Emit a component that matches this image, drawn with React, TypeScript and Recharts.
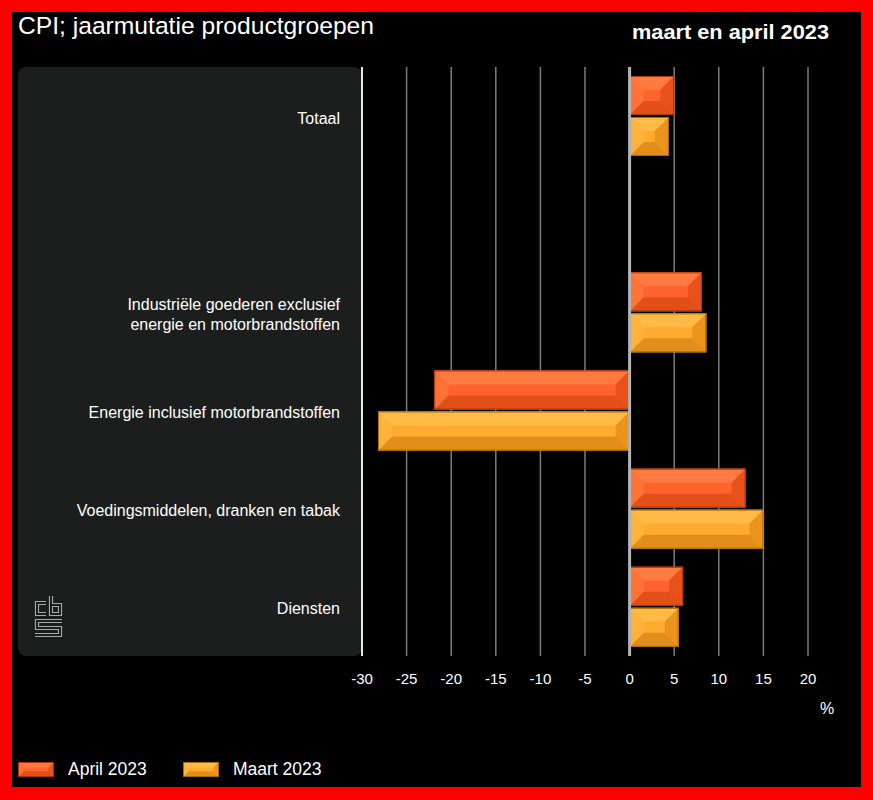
import React from 'react';
import { BarChart, Bar, XAxis, YAxis, CartesianGrid, ReferenceLine, Legend } from 'recharts';

const categories = [
  'Totaal',
  '',
  'Industriële goederen exclusief\nenergie en motorbrandstoffen',
  'Energie inclusief motorbrandstoffen',
  'Voedingsmiddelen, dranken en tabak',
  'Diensten',
];
const april2023 = [5.0, null, 8.1, -21.9, 13.0, 6.0];
const maart2023 = [4.4, null, 8.6, -28.2, 15.0, 5.5];
const xTicks = [-30, -25, -20, -15, -10, -5, 0, 5, 10, 15, 20];

const data = categories.map((c, i) => ({ name: c, april: april2023[i], maart: maart2023[i] }));

const FONT = '"Liberation Sans", Arial, sans-serif';

type Pal = { face: string; top: string; left: string; right: string; bottom: string; line: string };
const APRIL: Pal = { face: '#ff632c', top: '#ff7a40', left: '#ff7236', right: '#e8521a', bottom: '#e24f18', line: '#a83608' };
const MAART: Pal = { face: '#ffab30', top: '#ffbb46', left: '#ffb33c', right: '#ea941e', bottom: '#e28e1a', line: '#a86a08' };

function bevel(x: number, y: number, w: number, h: number, p: Pal, maxB = 14) {
  const b = Math.max(0, Math.min(maxB, h * 0.38, w / 2));
  return (
    <g>
      <rect x={x} y={y} width={w} height={h} fill={p.face} />
      <polygon points={`${x},${y} ${x + w},${y} ${x + w - b},${y + b} ${x + b},${y + b}`} fill={p.top} />
      <polygon points={`${x},${y + h} ${x + w},${y + h} ${x + w - b},${y + h - b} ${x + b},${y + h - b}`} fill={p.bottom} />
      <polygon points={`${x},${y} ${x + b},${y + b} ${x + b},${y + h - b} ${x},${y + h}`} fill={p.left} />
      <polygon points={`${x + w},${y} ${x + w - b},${y + b} ${x + w - b},${y + h - b} ${x + w},${y + h}`} fill={p.right} />
      <rect x={x + 0.5} y={y + 0.5} width={Math.max(0, w - 1)} height={Math.max(0, h - 1)} fill="none" stroke={p.line} strokeWidth={1} />
    </g>
  );
}

const makeShape = (p: Pal) => (props: any) => {
  let { x, y, width, height } = props;
  if (x == null || y == null || !width || !height) return <g />;
  if (width < 0) { x += width; width = -width; }
  if (height < 0) { y += height; height = -height; }
  return bevel(x, y, width, height, p);
};

const CatTick = (props: any) => {
  const { x, y, payload } = props;
  const lines = String(payload.value).split('\n');
  const lh = 20;
  const y0 = y - ((lines.length - 1) * lh) / 2 + 1.5;
  return (
    <text textAnchor="end" fill="#ffffff" fontSize={16} fontFamily={FONT} dominantBaseline="central">
      {lines.map((l, i) => (
        <tspan key={i} x={x} y={y0 + i * lh}>{l}</tspan>
      ))}
    </text>
  );
};

const renderLegend = (props: any) => {
  const { payload } = props;
  const pals = [APRIL, MAART];
  return (
    <div style={{ display: 'flex', fontFamily: FONT, fontSize: 17.5, color: '#fff' }}>
      {(payload || []).map((e: any, i: number) => (
        <div key={i} style={{ display: 'flex', alignItems: 'center', width: 165 }}>
          <svg width={36} height={15} style={{ display: 'block' }}>
            {bevel(0, 0, 36, 15, pals[i] || APRIL, 6)}
          </svg>
          <span style={{ marginLeft: 14, lineHeight: '20px' }}>{e.value}</span>
        </div>
      ))}
    </div>
  );
};

export default function App() {
  return (
    <div style={{ position: 'absolute', left: 0, top: 0, width: 873, height: 800, background: '#ff0000', overflow: 'hidden' }}>
      <div style={{ position: 'absolute', left: 12, top: 12, width: 849, height: 775, background: '#000' }} />
      <div style={{ position: 'absolute', left: 18, top: 67, width: 344, height: 589, background: '#1c1e1e', borderRadius: 8 }} />
      <svg width={873} height={800} style={{ position: 'absolute', left: 0, top: 0 }}>
        <text x={18} y={33.5} fill="#fff" fontSize={24.5} fontFamily={FONT} textLength={356} lengthAdjust="spacingAndGlyphs">CPI; jaarmutatie productgroepen</text>
        <text x={632} y={38.5} fill="#fff" fontSize={20.5} fontWeight="bold" fontFamily={FONT} textLength={197} lengthAdjust="spacingAndGlyphs">maart en april 2023</text>
        <text x={827} y={714} fill="#fff" fontSize={16} fontFamily={FONT} textAnchor="middle">%</text>
        <g transform="translate(35,596)" fill="none" strokeLinejoin="miter" strokeLinecap="butt">
          <g stroke="#a8a8a8" strokeWidth={4.2}>
            <path d="M11 7 H2 V18 H11" />
            <path d="M16 0 V18 H25 V9 H16" />
            <path d="M27 25 H2 V32 H25 V39 H0" />
          </g>
          <g stroke="#1c1e1e" strokeWidth={2}>
            <path d="M11.5 7 H2 V18 H11.5" />
            <path d="M16 -0.5 V18 H25 V9 H16" />
            <path d="M27.5 25 H2 V32 H25 V39 H-0.5" />
          </g>
        </g>
      </svg>
      <div style={{ position: 'absolute', left: 0, top: 0 }}>
        <BarChart
          width={873}
          height={800}
          data={data}
          layout="vertical"
          margin={{ top: 67, right: 65, bottom: 114, left: 0 }}
          barGap={2}
          barCategoryGap={9}
        >
          <CartesianGrid horizontal={false} vertical={true} stroke="#7c7c7c" strokeWidth={1.5} />
          <XAxis
            type="number"
            domain={[-30, 20]}
            ticks={xTicks}
            axisLine={false}
            tickLine={false}
            tickSize={0}
            tickMargin={17}
            interval={0}
            height={30}
            tick={{ fill: '#ffffff', fontSize: 15, fontFamily: FONT }}
          />
          <YAxis
            type="category"
            dataKey="name"
            width={362}
            axisLine={false}
            tickLine={false}
            tickSize={0}
            tickMargin={22}
            interval={0}
            tick={<CatTick />}
          />
          <ReferenceLine x={-30} stroke="#e8e8e8" strokeWidth={2} />
          <ReferenceLine x={0} stroke="#b4b4b4" strokeWidth={3} />
          <Legend
            content={renderLegend}
            verticalAlign="bottom"
            align="left"
            wrapperStyle={{ position: 'absolute', left: 18, top: 759, width: 400, height: 0, overflow: 'visible' }}
          />
          <Bar dataKey="april" name="April 2023" fill={APRIL.face} barSize={39} shape={makeShape(APRIL)} isAnimationActive={false} />
          <Bar dataKey="maart" name="Maart 2023" fill={MAART.face} barSize={39} shape={makeShape(MAART)} isAnimationActive={false} />
        </BarChart>
      </div>
    </div>
  );
}
